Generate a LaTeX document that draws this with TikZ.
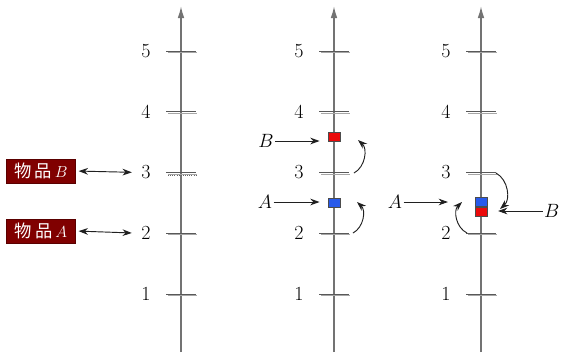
\documentclass[tikz,border=0pt]{standalone}
\usepackage{fontspec}
\newfontfamily\cjk{Noto Sans CJK SC}
\usetikzlibrary{
    arrows.meta,
    positioning
}

\definecolor{itemred}{RGB}{128,0,0}
\definecolor{sqred}{RGB}{235,10,10}
\definecolor{sqblue}{RGB}{40,90,235}

\tikzset{
    axisline/.style={
        draw=black!55,
        line width=1.2pt,
        -{Latex[length=9pt,width=5pt]}
    },
    tickmark/.style={
        draw=black!65,
        line width=0.7pt
    },
    tickshadow/.style={
        draw=black!35,
        line width=0.7pt
    },
    numlabel/.style={
        font=\fontsize{15pt}{17pt}\selectfont,
        inner sep=1pt
    },
    letterlabel/.style={
        font=\fontsize{13.5pt}{15pt}\selectfont,
        inner sep=1pt
    },
    itembox/.style={
        fill=itemred,
        draw=itemred!70!black,
        text=white,
        font=\fontsize{13pt}{15pt}\selectfont,
        minimum width=52pt,
        minimum height=18pt,
        inner sep=1pt
    },
    chip/.style={
        draw=gray!60!black,
        line width=0.6pt,
        minimum width=9pt,
        minimum height=7pt,
        inner sep=0pt
    },
    pointer/.style={
        draw=gray!25!black,
        line width=0.7pt,
        -{Stealth[length=7pt,width=5pt]}
    },
    twoway/.style={
        draw=gray!25!black,
        line width=0.7pt,
        {Stealth[length=7pt,width=5pt]}-{Stealth[length=7pt,width=5pt]}
    }
}

\begin{document}
\begin{tikzpicture}[
    x=0.75pt,
    y=-0.75pt
]

    \useasboundingbox (0,0) rectangle (561,355);

    % -------------------------------------------------------
    % Three vertical scales
    % -------------------------------------------------------
    \foreach \ax/\nm in {181/p, 334/q, 481/r} {
        \draw[axisline] (\ax,352) -- (\ax,6);
        \foreach \n in {1,...,5} {
            \pgfmathsetmacro{\ty}{294-(\n-1)*60.75}
            \draw[tickshadow] (\ax-13,\ty+1.6) -- (\ax+16,\ty+1.6);
            \draw[tickmark] (\ax-15,\ty) -- (\ax+15,\ty);
            \node[numlabel] (\nm-\n) at (\ax-35,\ty) {\n};
        }
    }

    % dotted mark under tick 3 of the first scale
    \draw[densely dotted, black!60, line width=0.6pt]
        (168,175) -- (196,175);

    % -------------------------------------------------------
    % Left: the two items
    % -------------------------------------------------------
    \node[itembox] (itemB) at (41,171) {\cjk 物\,品\,$B$};
    \node[itembox] (itemA) at (41,231) {\cjk 物\,品\,$A$};

    \draw[twoway, shorten <=2pt, shorten >=6pt]
        (itemB.east) -- (p-3.west);
    \draw[twoway, shorten <=2pt, shorten >=6pt]
        (itemA.east) -- (p-2.west);

    % -------------------------------------------------------
    % Middle: A and B on their own marks
    % -------------------------------------------------------
    \node[chip, fill=sqred] (chipBq) at (334,137) {};
    \node[chip, fill=sqblue] (chipAq) at (334,203) {};

    \node[letterlabel] (labBq) at (266,141) {$B$};
    \node[letterlabel] (labAq) at (265,202) {$A$};

    \draw[pointer, shorten >=6pt]
        (labBq.east) -- (labBq.east -| chipBq.west);
    \draw[pointer, shorten >=6pt]
        (labAq.east) -- (labAq.east -| chipAq.west);

    \coordinate (q3foot) at (354,173);
    \coordinate (q3head) at (358,140);
    \coordinate (q2foot) at (353,233);
    \coordinate (q2head) at (357,202);

    \draw[pointer] (q3foot) to[bend right=55] (q3head);
    \draw[pointer] (q2foot) to[bend right=55] (q2head);

    % -------------------------------------------------------
    % Right: A and B share one mark
    % -------------------------------------------------------
    \node[chip, fill=sqblue] (chipAr) at (481,202) {};
    \node[chip, fill=sqred, below=0pt of chipAr] (chipBr) {};

    \node[letterlabel] (labAr) at (395,202) {$A$};
    \node[letterlabel, anchor=east] (labBr) at (561,211) {$B$};

    \draw[pointer, shorten >=20pt]
        (labAr.east) -- (labAr.east -| chipAr.west);
    \draw[pointer, shorten >=8pt]
        (labBr.west) -- (labBr.west -| chipBr.east);

    \coordinate (r3foot) at (496,173);
    \coordinate (r3head) at (500,209);
    \coordinate (r2foot) at (467,233);
    \coordinate (r2head) at (462,202);

    \draw[pointer] (r3foot) to[bend left=55] (r3head);
    \draw[pointer] (r2foot) to[bend left=55] (r2head);

\end{tikzpicture}
\end{document}
